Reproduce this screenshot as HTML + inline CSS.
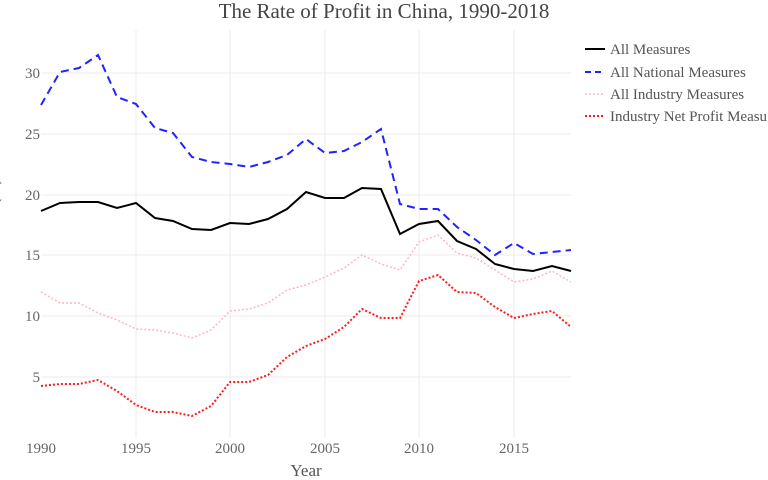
<!DOCTYPE html>
<html><head><meta charset="utf-8"><style>body{margin:0;background:#fff}svg{display:block}</style></head><body>
<svg width="768" height="480" xmlns="http://www.w3.org/2000/svg" font-family="Liberation Serif, serif">
<rect width="768" height="480" fill="#fff"/>
<g stroke="#ebebeb" stroke-width="1">
<line x1="41" x2="571" y1="73" y2="73"/><line x1="41" x2="571" y1="134" y2="134"/><line x1="41" x2="571" y1="195" y2="195"/><line x1="41" x2="571" y1="255" y2="255"/><line x1="41" x2="571" y1="316" y2="316"/><line x1="41" x2="571" y1="377" y2="377"/>
<line x1="136" x2="136" y1="30" y2="438"/><line x1="230" x2="230" y1="30" y2="438"/><line x1="325" x2="325" y1="30" y2="438"/><line x1="419" x2="419" y1="30" y2="438"/><line x1="514" x2="514" y1="30" y2="438"/>
</g>
<g fill="#666" font-size="15" text-anchor="end">
<text x="40" y="78">30</text><text x="40" y="139">25</text><text x="40" y="200">20</text><text x="40" y="260">15</text><text x="40" y="321">10</text><text x="40" y="382">5</text>
</g>
<g fill="#666" font-size="15" text-anchor="middle">
<text x="41" y="453">1990</text><text x="136" y="453">1995</text><text x="230" y="453">2000</text><text x="325" y="453">2005</text><text x="419" y="453">2010</text><text x="514" y="453">2015</text>
</g>
<text x="306" y="476" fill="#555" font-size="17" text-anchor="middle">Year</text>
<text x="384" y="18" fill="#444" font-size="21" text-anchor="middle">The Rate of Profit in China, 1990-2018</text>
<text transform="translate(-2,240) rotate(-90)" fill="#555" font-size="17" text-anchor="middle">Rate of Profit (%)</text>
<g fill="none" stroke-width="2">
<polyline stroke="#000" points="41,211 60,203 79,202 98,202 117,208 136,203 155,218 173,221 192,229 211,230 230,223 249,224 268,219 287,209 306,192 325,198 344,198 362,188 381,189 400,234 419,224 438,221 457,241 476,249 495,264 514,269 533,271 552,266 571,271"/>
<polyline stroke="#2222ff" stroke-dasharray="8,5" points="41,105 60,72 79,68 98,55 117,97 136,104 155,128 173,133 192,157 211,162 230,164 249,167 268,162 287,155 306,139 325,153 344,151 362,142 381,129 400,204 419,209 438,209 457,227 476,240 495,255 514,243 533,254 552,252 571,250"/>
<polyline stroke="#ffb6c1" stroke-width="1.5" stroke-dasharray="2,2" points="41,292 60,303 79,303 98,313 117,320 136,329 155,330 173,333 192,338 211,330 230,311 249,309 268,303 287,290 306,285 325,277 344,268 362,255 381,264 400,270 419,242 438,235 457,253 476,258 495,270 514,282 533,279 552,271 571,282"/>
<polyline stroke="#ff1a1a" stroke-dasharray="2,2" points="41,386 60,384 79,384 98,380 117,391 136,405 155,412 173,412 192,416 211,406 230,382 249,382 268,375 287,357 306,346 325,339 344,327 362,309 381,318 400,318 419,281 438,275 457,292 476,293 495,307 514,318 533,314 552,311 571,327"/>
</g>
<g stroke-width="2" fill="none">
<line x1="585" x2="605" y1="49" y2="49" stroke="#000"/>
<line x1="585" x2="605" y1="72" y2="72" stroke="#2222ff" stroke-dasharray="6,4"/>
<line x1="585" x2="605" y1="94" y2="94" stroke="#ffb6c1" stroke-width="1.5" stroke-dasharray="2,2"/>
<line x1="585" x2="605" y1="116" y2="116" stroke="#ff1a1a" stroke-dasharray="2,2"/>
</g>
<g fill="#555" font-size="15">
<text x="610" y="54">All Measures</text><text x="610" y="77">All National Measures</text><text x="610" y="99">All Industry Measures</text><text x="610" y="121">Industry Net Profit Measu</text>
</g>
</svg>
</body></html>
